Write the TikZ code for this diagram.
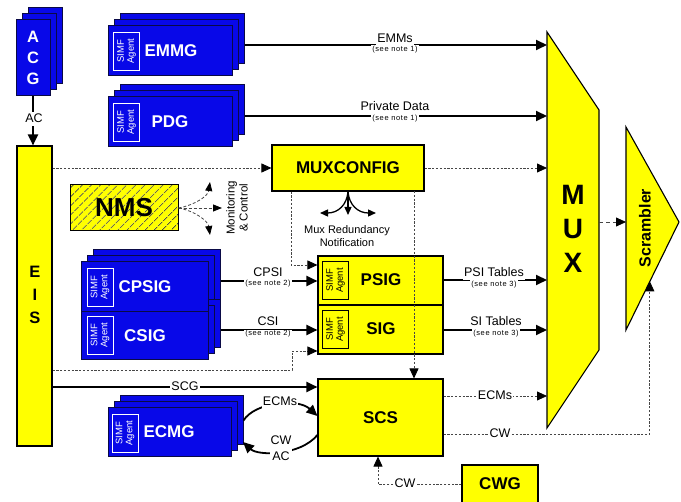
\documentclass[tikz,border=0pt]{standalone}
\usepackage{fontspec}
\setmainfont{Liberation Sans}
\newfontfamily\notefont[LetterSpace=8]{Liberation Sans}
\usetikzlibrary{arrows.meta,patterns.meta,calc}
\definecolor{gblue}{RGB}{8,8,232}
\definecolor{gnavy}{RGB}{10,10,70}
\definecolor{gyel}{RGB}{255,255,0}
\definecolor{dashc}{RGB}{70,70,70}
\tikzset{
 bluebox/.style={draw=gnavy, fill=gblue, line width=1pt, inner sep=0pt},
 yelbox/.style={draw=black, fill=gyel, line width=1.1pt, inner sep=0pt},
 boxlbl/.style={font=\fontsize{17}{19}\selectfont\bfseries, inner sep=0pt},
 simfw/.style={draw=white, line width=0.6pt, text=white, rotate=90, font=\fontsize{9.5}{10}\selectfont, align=center, minimum width=38pt, minimum height=26pt, inner sep=0pt},
 simfb/.style={simfw, draw=black, text=black},
 solidarr/.style={line width=2pt, -{Triangle[length=11pt,width=10pt]}},
 dasharr/.style={line width=0.8pt, draw=dashc, dash pattern=on 2.2pt off 1.6pt, -{Triangle[length=10pt,width=9pt,color=black]}},
 redarr/.style={line width=1.3pt, -{Triangle[length=8pt,width=7pt]}},
 nmsarr/.style={line width=0.8pt, draw=dashc, dash pattern=on 3pt off 2pt, -{Triangle[length=9pt,width=7pt,color=black]}},
 lbl/.style={font=\fontsize{12.5}{14}\selectfont, fill=white, inner sep=1pt, text depth=2.5pt},
 notel/.style={font=\notefont\fontsize{7.5}{8}\selectfont, fill=white, inner sep=1pt},
}
\newcommand{\stackback}[5]{%
 \node[bluebox, minimum width=#4pt, minimum height=#5pt] (#1c) at ({#2+12},{#3-12}) {};
 \node[bluebox, minimum width=#4pt, minimum height=#5pt] (#1b) at ({#2+6},{#3-6}) {};}
\newcommand{\stackfront}[5]{%
 \node[bluebox, minimum width=#4pt, minimum height=#5pt] (#1) at (#2,#3) {};}
\begin{document}
\begin{tikzpicture}[x=1pt,y=-1pt]
\useasboundingbox (0,0) rectangle (681,502);
\fill[white] (0,0) rectangle (681,502);

% MUX
\coordinate (muxtl) at (547,32);
\coordinate (muxtr) at (599,110);
\coordinate (muxbr) at (599,350);
\coordinate (muxbl) at (547,428);
\draw[yelbox] (muxtl) -- (muxtr) -- (muxbr) -- (muxbl) -- cycle;
\node[font=\fontsize{28}{34}\selectfont\bfseries, align=center] (muxt) at (573,229) {M\\U\\X};
\coordinate (muxr) at (599,222);

% Scrambler
\coordinate (scrt) at (626,127);
\coordinate (scrr) at (679,222);
\coordinate (scrb) at (626,330);
\draw[yelbox] (scrt) -- (scrr) -- (scrb) -- cycle;
\node[font=\fontsize{16}{18}\selectfont\bfseries, rotate=90] (scrtxt) at (645,228) {Scrambler};
\coordinate (scrl) at (626,222);
\coordinate (scrcw) at ($(scrb)!0.45!(scrr)$);

% ACG
\stackback{acg}{33}{58}{34}{76}
\stackfront{acg}{33}{58}{34}{76}
\node[font=\fontsize{16.5}{21}\selectfont\bfseries, text=white, align=center] (acgt) at (33,58) {A\\C\\G};

% EIS
\node[yelbox, minimum width=35pt, minimum height=300pt] (eis) at (34.5,296) {};
\node[font=\fontsize{16.5}{23}\selectfont\bfseries, align=center] (eist) at (35,295) {E\\I\\S};

% EMMG
\stackback{emmg}{170}{51}{124}{50}
\stackfront{emmg}{170}{51}{124}{50}
\node[simfw] (emmgs) at (126.5,51) {SIMF\\Agent};
\node[boxlbl, text=white] (emmgt) at (171,51) {EMMG};

% PDG
\stackback{pdg}{170}{122}{124}{50}
\stackfront{pdg}{170}{122}{124}{50}
\node[simfw] (pdgs) at (126.5,122) {SIMF\\Agent};
\node[boxlbl, text=white] (pdgt) at (170,122) {PDG};

% CPSIG / CSIG
\stackback{cpsig}{144.5}{287}{127}{50}
\stackback{csig}{144.5}{336}{127}{48}
\stackfront{cpsig}{144.5}{287}{127}{50}
\stackfront{csig}{144.5}{336}{127}{48}
\node[simfw] (cpsigs) at (100,287) {SIMF\\Agent};
\node[boxlbl, text=white] (cpsigt) at (145,287) {CPSIG};
\node[simfw] (csigs) at (100,335) {SIMF\\Agent};
\node[boxlbl, text=white] (csigt) at (145,336) {CSIG};

% ECMG
\stackback{ecmg}{169.5}{432.5}{123}{49}
\stackfront{ecmg}{169.5}{432.5}{123}{49}
\node[simfw] (ecmgs) at (125,433) {SIMF\\Agent};
\node[boxlbl, text=white] (ecmgt) at (169,432) {ECMG};

% yellow boxes
\node[yelbox, boxlbl, minimum width=152pt, minimum height=46pt] (muxconfig) at (348,168) {MUXCONFIG};
\node[yelbox, minimum width=125pt, minimum height=49pt] (psig) at (380.5,280.5) {};
\node[yelbox, minimum width=125pt, minimum height=49pt] (sig) at (380.5,329.5) {};
\node[simfb] (psigs) at (335.5,280.5) {SIMF\\Agent};
\node[simfb] (sigs) at (335.5,329.5) {SIMF\\Agent};
\node[boxlbl] (psigt) at (381,280) {PSIG};
\node[boxlbl] (sigt) at (381,329) {SIG};
\node[yelbox, boxlbl, minimum width=125pt, minimum height=77pt] (scs) at (380.5,417.5) {SCS};
\node[yelbox, boxlbl, minimum width=76pt, minimum height=40pt] (cwg) at (500,485) {};
\node[boxlbl] (cwgt) at (500,484) {CWG};

% NMS
\node[draw=black, line width=1pt, preaction={fill=gyel}, pattern={Lines[angle=45,distance=6.5pt,line width=1pt]}, pattern color=black!75, minimum width=108pt, minimum height=46pt, inner sep=0pt] (nms) at (124,208) {};
\node[font=\fontsize{26}{28}\selectfont\bfseries] (nmst) at (124,208) {NMS};

% NMS monitoring arrows
\coordinate (nmsu) at (210,182);
\coordinate (nmsm) at (222,208);
\coordinate (nmsd) at (210,235);
\draw[nmsarr] (nms.east) .. controls (195,205) and (208,196) .. (nmsu);
\draw[nmsarr] (nms.east) -- (nmsm);
\draw[nmsarr] (nms.east) .. controls (195,211) and (208,221) .. (nmsd);
\node[font=\fontsize{11.5}{13}\selectfont, rotate=90, align=center] (mct) at (237,208) {Monitoring\\\& Control};

% AC
\draw[solidarr] (acg.south) -- (acg.south |- eis.north);
\node[lbl] (acl) at (34,119) {AC};

% EMMs and Private Data
\draw[solidarr] (emmgb.east -| emmgc.east) -- (emmgb.east -| muxtl);
\node[lbl, anchor=base] (emmsl) at (395,43) {EMMs};
\node[notel] (emmsn) at (395,49.5) {(see note 1)};
\draw[solidarr] (pdgb.east -| pdgc.east) -- (pdgb.east -| muxtl);
\node[lbl, anchor=base] (pdl) at (395,111) {Private Data};
\node[notel] (pdn) at (395,118.5) {(see note 1)};

% EIS -> MUXCONFIG -> MUX
\draw[dasharr] (eis.east |- muxconfig.west) -- (muxconfig.west);
\draw[dasharr] (muxconfig.east) -- (muxconfig.east -| muxtl);

% MUXCONFIG down lines
\coordinate (mcl) at (291,265);
\draw[dasharr] (muxconfig.south -| mcl) -- (mcl) -- (mcl -| psig.west);
\coordinate (mcr) at (414,191);
\draw[dasharr] (mcr) -- (mcr |- scs.north);

% Mux redundancy
\coordinate (mrl) at (320,213);
\coordinate (mrm) at (348,215);
\coordinate (mrr) at (376,213);
\draw[redarr] (muxconfig.south) .. controls (347,205) and (338,213) .. (mrl);
\draw[redarr] (muxconfig.south) -- (mrm);
\draw[redarr] (muxconfig.south) .. controls (349,205) and (358,213) .. (mrr);
\node[font=\fontsize{11}{13.5}\selectfont, align=center] (mrn) at (347,236) {Mux Redundancy\\Notification};

% CPSI / CSI
\draw[solidarr] (cpsigb.east -| cpsigc.east) -- (cpsigb.east -| psig.west);
\node[lbl, anchor=base] (cpsil) at (268,277) {CPSI};
\node[notel] (cpsin) at (268,284) {(see note 2)};
\draw[solidarr] (csigb.east -| csigc.east) -- (csigb.east -| sig.west);
\node[lbl, anchor=base] (csil) at (268,326) {CSI};
\node[notel] (csin) at (268,334) {(see note 2)};

% EIS -> SIG dashed
\coordinate (esa) at (292,370);
\coordinate (esb) at (292,351);
\draw[dasharr] (eis.east |- esa) -- (esa) -- (esb) -- (esb -| sig.west);

% PSI / SI tables
\coordinate (psiy) at (0,280);
\coordinate (siy) at (0,330);
\draw[solidarr] (psig.east |- psiy) -- (muxtl |- psiy);
\node[lbl, anchor=base] (psil) at (494,277) {PSI Tables};
\node[notel] (psin) at (494,284.5) {(see note 3)};
\draw[solidarr] (sig.east |- siy) -- (muxtl |- siy);
\node[lbl, anchor=base] (sil) at (496,326) {SI Tables};
\node[notel] (sin) at (496,333.5) {(see note 3)};

% SCG
\coordinate (scgy) at (0,387);
\draw[solidarr] (eis.east |- scgy) -- (scs.west |- scgy);
\node[lbl] (scgl) at (185,387) {SCG};

% ECMs dashed to MUX
\coordinate (ecmy) at (0,396);
\draw[dasharr] (scs.east |- ecmy) -- (muxtl |- ecmy);
\node[lbl] (ecml) at (495,396) {ECMs};

% CW to scrambler
\coordinate (cwy) at (0,434);
\draw[dasharr] (scs.east |- cwy) -| (scrcw);
\node[lbl] (cwl) at (500,434) {CW};

% MUX -> Scrambler
\draw[dasharr, dash pattern=on 4pt off 3pt] (muxr) -- (scrl);

% CWG -> SCS
\coordinate (cwgc) at (378,484);
\draw[dasharr] (cwg.west |- cwgc) -- (cwgc) -- (cwgc |- scs.south);
\node[lbl] (cwgl) at (405,484) {CW};

% ECMG <-> SCS
\coordinate (ecmsin) at (318,416);
\coordinate (cwout) at (318,435);
\coordinate (cwin) at (243,442);
\draw[solidarr, line width=1.8pt] (ecmgc.east) .. controls (255,402) and (298,398) .. (scs.west |- ecmsin);
\node[lbl] (ecmsl) at (280,402) {ECMs};
\draw[solidarr, line width=1.8pt] (scs.west |- cwout) .. controls (300,456) and (258,456) .. (cwin);
\node[lbl, align=center, font=\fontsize{12.5}{16}\selectfont] (cwacl) at (281,449) {CW\\AC};
\end{tikzpicture}
\end{document}
